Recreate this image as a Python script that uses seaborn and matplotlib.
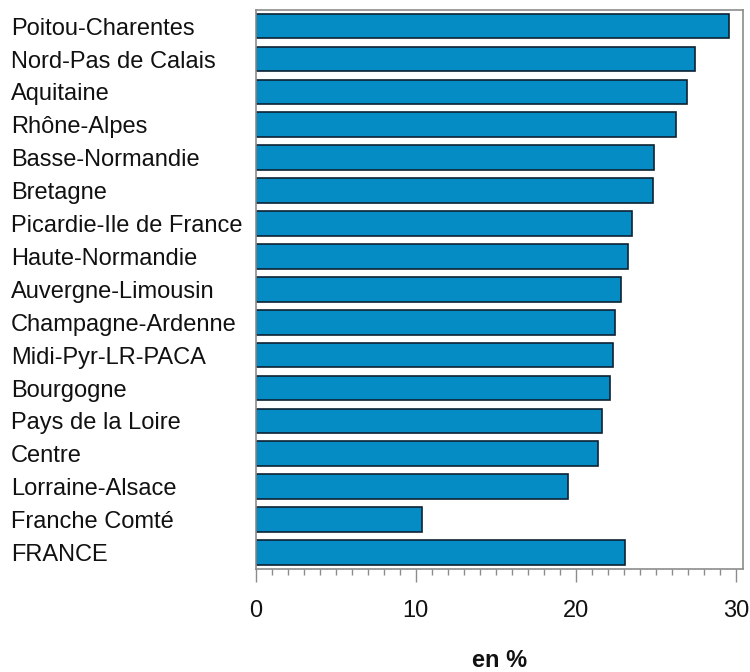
# Horizontal bar chart of regional shares (en %)
import matplotlib
matplotlib.use("Agg")
import matplotlib.pyplot as plt
from matplotlib.ticker import MultipleLocator
import seaborn as sns
import pandas as pd

# data
regions = ["Poitou-Charentes", "Nord-Pas de Calais", "Aquitaine", "Rhône-Alpes",
           "Basse-Normandie", "Bretagne", "Picardie-Ile de France", "Haute-Normandie",
           "Auvergne-Limousin", "Champagne-Ardenne", "Midi-Pyr-LR-PACA", "Bourgogne",
           "Pays de la Loire", "Centre", "Lorraine-Alsace", "Franche Comté", "FRANCE"]
values = [29.56, 27.42, 26.92, 26.21, 24.86, 24.78, 23.51, 23.22,
          22.82, 22.45, 22.32, 22.13, 21.62, 21.35, 19.51, 10.41, 23.07]
x_ticks = [0, 10, 20, 30]

df = pd.DataFrame({"region": regions, "value": values})

# seaborn style first, then fonts
sns.set_style("white")
plt.rcParams["font.family"] = ["Liberation Sans", "DejaVu Sans"]

fig = plt.figure(figsize=(7.5, 6.72), dpi=100)
ax = fig.add_axes([0.3407, 0.1533, 0.6496, 0.8323])

sns.barplot(data=df, x="value", y="region", orient="h", color="#068cc4",
            saturation=1, width=0.75, edgecolor="#0d2233", linewidth=1.2, ax=ax)

ax.set_xlim(0, 30.4)
ax.set_ylim(16.5, -0.5)

# frame in grey
for side in ["top", "right", "left", "bottom"]:
    ax.spines[side].set_color("#8c8c8c")
    ax.spines[side].set_linewidth(1.2)

# x ticks: majors every 10, minors every 1
ax.set_xticks(x_ticks)
ax.xaxis.set_minor_locator(MultipleLocator(1))
ax.tick_params(axis="x", which="major", direction="out", length=9.5, width=1,
               color="#8c8c8c", pad=13, labelsize=17, labelcolor="#111111", bottom=True)
ax.tick_params(axis="x", which="minor", direction="out", length=4.5, width=1,
               color="#8c8c8c", bottom=True)

# y labels left aligned at the figure edge
ax.tick_params(axis="y", length=0, pad=176, labelsize=17, labelcolor="#111111")
for lab in ax.get_yticklabels():
    lab.set_horizontalalignment("left")

ax.set_ylabel("")
ax.set_xlabel("en %", fontsize=17, fontweight="bold", labelpad=19, color="#111111")

fig.savefig("out.png", dpi=100)
